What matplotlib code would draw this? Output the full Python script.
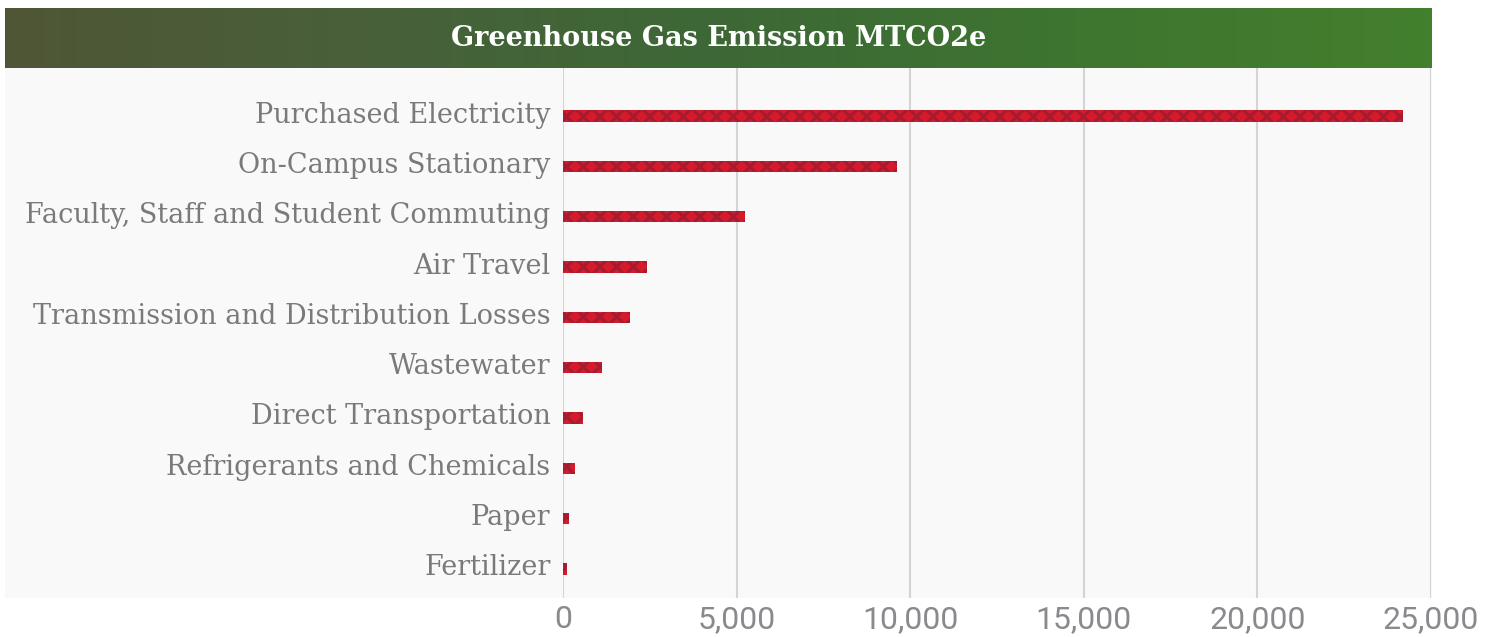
import matplotlib.pyplot as plt
import matplotlib.transforms as mtransforms
from matplotlib.colors import LinearSegmentedColormap
import numpy as np

categories = ['Purchased Electricity', 'On-Campus Stationary',
              'Faculty, Staff and Student Commuting', 'Air Travel',
              'Transmission and Distribution Losses', 'Wastewater',
              'Direct Transportation', 'Refrigerants and Chemicals',
              'Paper', 'Fertilizer']
emissions = [24200, 9630, 5230, 2420, 1935, 1130, 590, 350, 160, 125]
xticks = [0, 5000, 10000, 15000, 20000, 25000]
xtick_labels = ['0', '5,000', '10,000', '15,000', '20,000', '25,000']
title = 'Greenhouse Gas Emission MTCO2e'

W, H = 1500, 637
fig = plt.figure(figsize=(15, 6.37), dpi=100, facecolor='white')

# light grey panel behind labels and bars
bg = fig.add_axes([5 / W, 1 - 598 / H, 1427 / W, 530 / H])
bg.set_facecolor('#f9f9f9')
bg.set_xticks([])
bg.set_yticks([])
for s in bg.spines.values():
    s.set_visible(False)

# green header band
hax = fig.add_axes([5 / W, 1 - 68 / H, 1427 / W, 60 / H])
cmap = LinearSegmentedColormap.from_list('hdr', ['#4f5636', '#48603a', '#3d6836', '#3e7530', '#43802d'])
hax.imshow(np.linspace(0, 1, 256).reshape(1, -1), aspect='auto', cmap=cmap,
           extent=[0, 1, 0, 1])
hax.set_axis_off()
hax.text(0.5, 0.5, title, ha='center', va='center', color='white',
         fontsize=19.5, fontweight='bold', family='DejaVu Serif',
         transform=hax.transAxes)

ax = fig.add_axes([563 / W, 1 - 598 / H, 868 / W, 530 / H])
ax.patch.set_alpha(0)
y = np.arange(len(categories))
plt.rcParams['hatch.linewidth'] = 2.2
ax.barh(y, emissions, height=0.22, color='#d51a2c', edgecolor='#a51c31',
        hatch='xx', linewidth=0, zorder=3)

ax.set_xlim(0, 25000)
ax.set_ylim(9 + 29 / 50.33, -48 / 50.33)
ax.set_xticks(xticks)
ax.set_xticklabels(xtick_labels, family='Roboto', fontsize=23, color='#8a8a8e')
ax.set_yticks(y)
ax.set_yticklabels(categories, family='DejaVu Serif', fontsize=19.5, color='#7a7a7a')
ax.tick_params(axis='both', length=0)
ax.tick_params(axis='x', pad=5)
ax.tick_params(axis='y', pad=9)
ax.grid(axis='x', color='#d4d4d4', linewidth=1.5, zorder=0)
ax.set_axisbelow(True)
for s in ax.spines.values():
    s.set_visible(False)

# nudge category labels up a little
shift = mtransforms.ScaledTranslation(0, 4 / 100, fig.dpi_scale_trans)
for lbl in ax.get_yticklabels():
    lbl.set_transform(lbl.get_transform() + shift)

fig.savefig('out.png', dpi=100, facecolor='white')
